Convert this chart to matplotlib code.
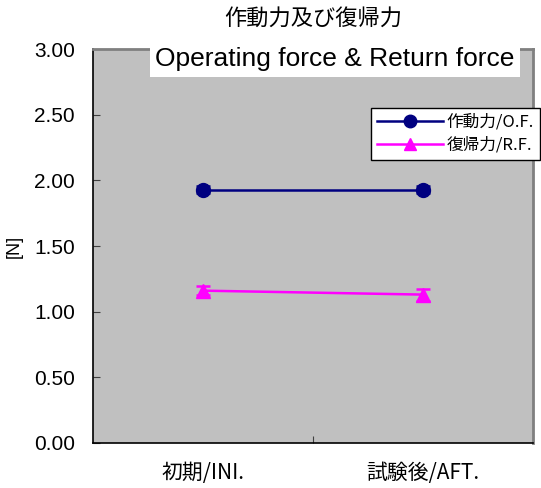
import matplotlib
matplotlib.use('Agg')
import matplotlib.pyplot as plt
from matplotlib.lines import Line2D

plt.rcParams['font.family'] = ['Liberation Sans', 'Noto Sans CJK JP', 'DejaVu Sans']
CJK = ['Noto Sans CJK JP', 'DejaVu Sans']

# data
categories = ['初期/INI.', '試験後/AFT.']
of_values = [1.93, 1.93]
of_err = [0.03, 0.03]
rf_values = [1.16, 1.13]
rf_err = [0.035, 0.045]
y_ticks = [0.0, 0.5, 1.0, 1.5, 2.0, 2.5, 3.0]

fig = plt.figure(figsize=(5.41, 4.88), dpi=100)
ax = fig.add_axes([93 / 541, 45 / 488, 440 / 541, 394 / 488])
ax.set_facecolor('#C0C0C0')

x = list(range(len(categories)))
ax.errorbar(x, of_values, yerr=of_err, color='#000080', marker='o', markersize=10,
            linewidth=1.8, capsize=5, capthick=1.8, elinewidth=1.5)
ax.errorbar(x, rf_values, yerr=rf_err, color='#FF00FF', marker='^', markersize=10,
            linewidth=1.8, capsize=5, capthick=1.8, elinewidth=1.5)

ax.set_xlim(-0.5, 1.5)
ax.set_ylim(0, 3)
ax.set_yticks(y_ticks)
ax.set_yticklabels([f'{v:.2f}' for v in y_ticks], fontsize=15)
ax.set_xticks([0.5])
ax.set_xticklabels([''])
ax.tick_params(axis='both', direction='in', length=5, color='#404040')
ax.tick_params(axis='y', pad=13)
for i, c in enumerate(categories):
    ax.text(i, -0.225, c, ha='center', va='center', fontsize=15, family=CJK)

ax.set_ylabel('[N]', fontsize=13)
ax.yaxis.set_label_coords(-0.16, 0.5)

for s in ['left', 'bottom']:
    ax.spines[s].set_color('black')
    ax.spines[s].set_linewidth(1.2)
for s in ['top', 'right']:
    ax.spines[s].set_color('#808080')
    ax.spines[s].set_linewidth(2)

fig.text(313 / 541, 1 - 18 / 488, '作動力及び復帰力', ha='center', va='center',
         fontsize=16, family=CJK)
fig.text(335 / 541, 1 - 59 / 488, 'Operating force & Return force', ha='center', va='center',
         fontsize=19, bbox=dict(facecolor='white', edgecolor='none', pad=4))

handles = [
    Line2D([], [], color='#000080', marker='o', markersize=9, linewidth=1.8),
    Line2D([], [], color='#FF00FF', marker='^', markersize=9, linewidth=1.8),
]
leg = ax.legend(handles, ['作動力/O.F.', '復帰力/R.F.'], loc='upper right',
                bbox_to_anchor=(540 / 541, 1 - 108 / 488),
                bbox_transform=fig.transFigure, fontsize=12, frameon=True,
                fancybox=False, framealpha=1, edgecolor='black', borderpad=0.35,
                handlelength=4.0, handletextpad=0.2, labelspacing=0.35, borderaxespad=0)
for t in leg.get_texts():
    t.set_family(CJK)
leg.get_frame().set_linewidth(1)

fig.savefig('out.png', dpi=100)
